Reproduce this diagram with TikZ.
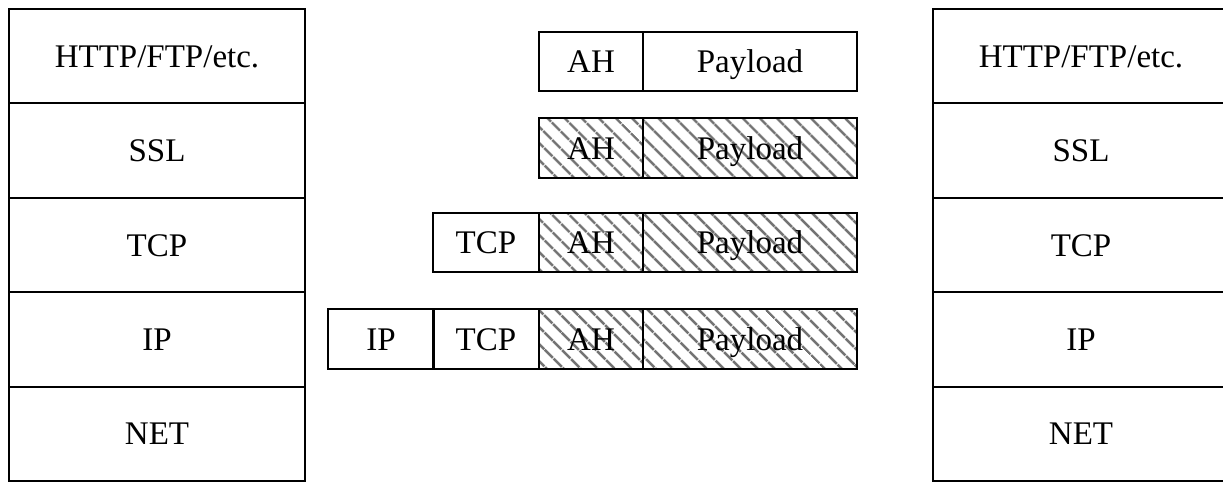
\documentclass[tikz,border=0pt]{standalone}
\usepackage{fontspec}
\setmainfont{Liberation Serif}
\usetikzlibrary{patterns.meta}
\begin{document}
\begin{tikzpicture}[x=1pt,y=-1pt,
  cell/.style={draw=black,line width=2pt,inner sep=0pt,text height=28pt,text depth=6pt,font=\fontsize{33}{40}\selectfont},
  stackcell/.style={cell,minimum width=296pt,minimum height=94.4pt},
  hatched/.style={pattern={Lines[angle=-45,distance=13pt,line width=3pt]},pattern color=black!55},
]
\useasboundingbox (0,0) rectangle (1223,483);
% left stack
\node[stackcell] (L1) at (157,56.2) {HTTP/FTP/etc.};
\node[stackcell] (L2) at (157,150.6) {SSL};
\node[stackcell] (L3) at (157,245) {TCP};
\node[stackcell] (L4) at (157,339.4) {IP};
\node[stackcell] (L5) at (157,433.8) {NET};
% right stack
\node[stackcell] (R1) at (1081,56.2) {HTTP/FTP/etc.};
\node[stackcell] (R2) at (1081,150.6) {SSL};
\node[stackcell] (R3) at (1081,245) {TCP};
\node[stackcell] (R4) at (1081,339.4) {IP};
\node[stackcell] (R5) at (1081,433.8) {NET};
% row 1
\node[cell,minimum width=104pt,minimum height=59pt] (ah1) at (591,61.5) {AH};
\node[cell,minimum width=214pt,minimum height=59pt] (pl1) at (750,61.5) {Payload};
% row 2
\node[cell,hatched,minimum width=104pt,minimum height=60pt] (ah2) at (591,148) {AH};
\node[cell,hatched,minimum width=214pt,minimum height=60pt] (pl2) at (750,148) {Payload};
% row 3
\node[cell,minimum width=106pt,minimum height=59pt] (tcp3) at (486,242.5) {TCP};
\node[cell,hatched,minimum width=104pt,minimum height=59pt] (ah3) at (591,242.5) {AH};
\node[cell,hatched,minimum width=214pt,minimum height=59pt] (pl3) at (750,242.5) {Payload};
% row 4
\node[cell,minimum width=106pt,minimum height=60pt] (ip4) at (381,339) {IP};
\node[cell,minimum width=106pt,minimum height=60pt] (tcp4) at (486,339) {TCP};
\node[cell,hatched,minimum width=104pt,minimum height=60pt] (ah4) at (591,339) {AH};
\node[cell,hatched,minimum width=214pt,minimum height=60pt] (pl4) at (750,339) {Payload};
\end{tikzpicture}
\end{document}
